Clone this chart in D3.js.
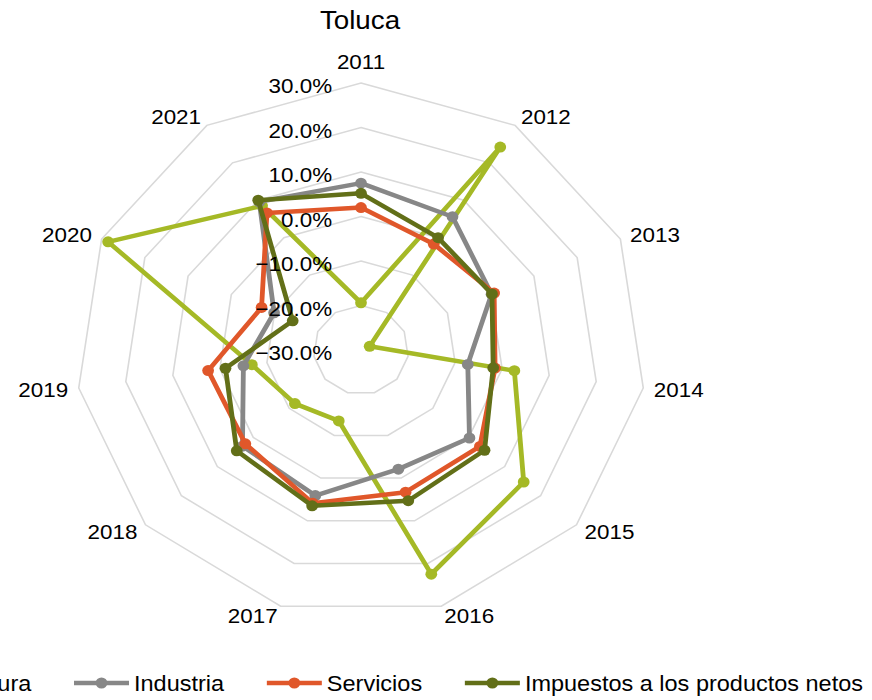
<!DOCTYPE html>
<html>
<head>
<meta charset="utf-8">
<script src="https://cdn.jsdelivr.net/npm/d3@7"></script>
<style>
  html, body { margin: 0; padding: 0; background: #fff; }
  svg { display: block; font-family: "Liberation Sans", Arial, sans-serif; }
</style>
</head>
<body>
<svg id="chart" width="872" height="700"></svg>
<script>
// ---- data (growth rates, %) ----
const years = ['2011','2012','2013','2014','2015','2016','2017','2018','2019','2020','2021'];
const seriesNames = ['Agricultura','Industria','Servicios','Impuestos a los productos netos'];
const agricultura = [-19.4, 24.2, -28.0, 2.6, 15.3, 22.5, -13.4, -11.6, -6.8, 28.5, 8.5];
const industria   = [7.5, 5.6, 0.2, -7.3, 0.2, -2.1, 4.1, 3.0, -5.0, -9.9, 9.6];
const servicios   = [2.0, -1.7, 0.8, -1.5, 3.1, 3.3, 5.9, 2.2, 2.5, -7.0, 6.6];
const impuestos   = [5.2, 0.0, 0.3, -1.9, 4.4, 5.3, 6.5, 4.6, -1.2, -14.2, 10.0];
const tickValues  = [-30, -20, -10, 0, 10, 20, 30];
const colors = ['#a5b926', '#878787', '#e0572a', '#626f18'];

const seriesData = [agricultura, industria, servicios, impuestos];

const W = 872, H = 700;
const cx = 361, cy = 350, sx = 1.068, R = 267;
const svg = d3.select('#chart');
svg.append('rect').attr('width', W).attr('height', H).attr('fill', '#fff');

const r = d3.scaleLinear().domain([-30, 30]).range([0, R]);
const n = years.length;
const ang = d3.scaleLinear().domain([0, n]).range([0, 2 * Math.PI]);
const pt = (i, v) => [r(v) * Math.sin(ang(i)), -r(v) * Math.cos(ang(i))];

const g = svg.append('g').attr('transform', `translate(${cx},${cy}) scale(${sx},1)`);

// rings
const ringVals = tickValues.filter(v => v > -30);
g.selectAll('path.ring').data(ringVals).join('path')
  .attr('class', 'ring')
  .attr('d', v => d3.line()(d3.range(n).map(i => pt(i, v))) + 'Z')
  .attr('fill', 'none').attr('stroke', '#d9d9d9').attr('stroke-width', 1.5);

// category labels
const catG = g.append('g');
years.forEach((y, i) => {
  const a = ang(i), ux = Math.sin(a), uy = -Math.cos(a);
  const gap = 10;
  const px = (R + gap) * ux, py = (R + gap) * uy;
  const t = catG.append('text').text(y)
    .attr('font-size', 21).attr('fill', '#000')
    .attr('dominant-baseline', 'central');
  if (Math.abs(ux) < 0.01) {
    t.attr('x', px).attr('y', py - 11).attr('text-anchor', 'middle');
  } else {
    t.attr('x', px).attr('y', py).attr('text-anchor', ux > 0 ? 'start' : 'end');
  }
});

// series
const line = d3.line().curve(d3.curveLinearClosed);
seriesData.forEach((vals, s) => {
  const pts = vals.map((v, i) => pt(i, v));
  g.append('path').attr('d', line(pts))
    .attr('fill', 'none').attr('stroke', colors[s])
    .attr('stroke-width', 4.5).attr('stroke-linejoin', 'round');
  g.selectAll(null).data(pts).join('circle')
    .attr('cx', d => d[0]).attr('cy', d => d[1]).attr('r', 5.5)
    .attr('fill', colors[s]);
});

// radial tick labels
g.selectAll('text.tick').data(tickValues).join('text')
  .attr('class', 'tick')
  .attr('x', -27).attr('y', v => -r(v) + 3)
  .attr('text-anchor', 'end').attr('dominant-baseline', 'central')
  .attr('font-size', 21).attr('fill', '#000')
  .text(v => d3.format('.1f')(v) + '%');

// title
svg.append('g').attr('transform', `scale(${sx},1)`)
  .append('text').attr('x', 360 / sx).attr('y', 20)
  .attr('text-anchor', 'middle').attr('dominant-baseline', 'central')
  .attr('font-size', 26).attr('fill', '#000').text('Toluca');

// legend
const lg = svg.append('g').attr('transform', `scale(${sx},1)`);
const lineLen = 51.5, textGap = 4.7, itemGap = 40, ly = 683;
const items = seriesNames.map((name, s) => {
  const it = lg.append('g');
  it.append('line').attr('x1', 0).attr('x2', lineLen).attr('y1', ly).attr('y2', ly)
    .attr('stroke', colors[s]).attr('stroke-width', 4.5);
  it.append('circle').attr('cx', lineLen / 2).attr('cy', ly).attr('r', 5.5).attr('fill', colors[s]);
  const t = it.append('text').attr('x', lineLen + textGap).attr('y', ly)
    .attr('dominant-baseline', 'central').attr('font-size', 22).attr('fill', '#000').text(name);
  return { it, w: lineLen + textGap + t.node().getComputedTextLength() };
});
const total = d3.sum(items, d => d.w) + itemGap * (items.length - 1);
let x0 = cx / sx - total / 2;
items.forEach(d => { d.it.attr('transform', `translate(${x0},0)`); x0 += d.w + itemGap; });
</script>
</body>
</html>
